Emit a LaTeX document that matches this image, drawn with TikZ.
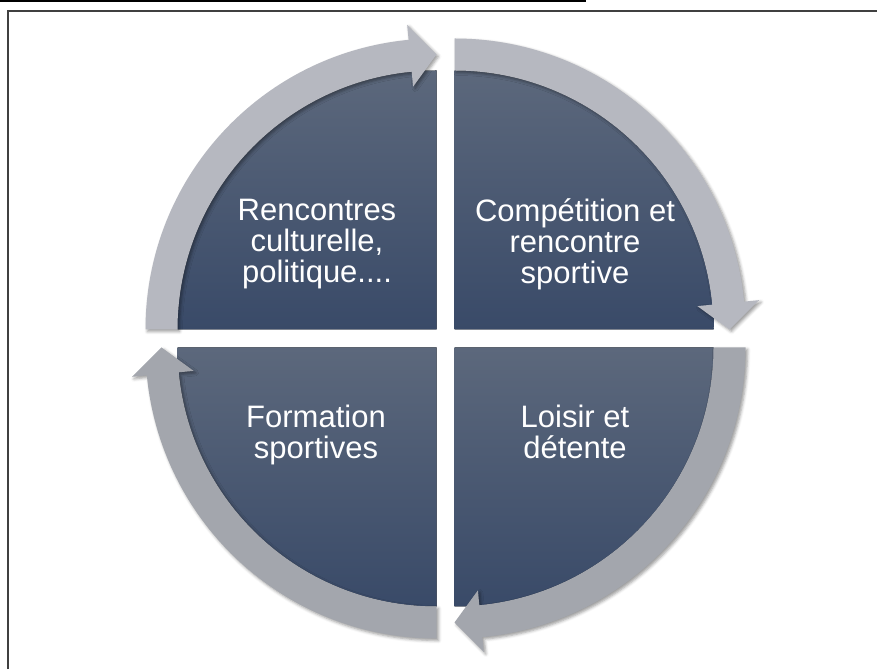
\documentclass[tikz,border=0pt]{standalone}
\usepackage{fontspec}
\setmainfont{Liberation Sans}
\usetikzlibrary{shadows.blur}
\definecolor{ringtop}{HTML}{B6B8C0}
\definecolor{ringbot}{HTML}{A3A6AD}
\definecolor{sectop}{HTML}{5C687C}
\definecolor{secbot}{HTML}{394A68}

\begin{document}
\begin{tikzpicture}[x=1pt, y=1pt,
  sector/.style={top color=sectop, bottom color=secbot},
  ring/.style={blur shadow={shadow xshift=2pt, shadow yshift=-2pt, shadow blur radius=3pt, shadow opacity=40}},
  qtext/.style={text=white, align=center, inner sep=0pt, font=\fontsize{31}{31}\selectfont}]
  \useasboundingbox (0,0) rectangle (877,669);
  \def\rin{259}
  \def\rout{291}
  \def\hin{244}
  \def\hout{306}
  \def\rtip{275}
  \def\hang{95.5}
  % frame
  \draw[black, line width=2pt] (0,667.8) -- (586,667.8);
  \draw[black!75, line width=2pt] (8,0) -- (8,658) -- (877,658);
  % quarter discs
  \foreach \cx/\cy/\a in {436.5/339.5/90, 454.5/339.5/0, 454.5/321.5/270, 436.5/321.5/180}{
    \fill[sector] (\cx,\cy) -- ++(\a:\rin) arc[start angle=\a, end angle=\a+90, radius=\rin] -- cycle;
  }
  % curved arrows, one per quarter
  \foreach \cx/\cy/\rot/\col in {436.5/339.5/0/ringtop, 454.5/339.5/-90/ringtop, 454.5/321.5/-180/ringbot, 436.5/321.5/90/ringbot}{
    \begin{scope}[shift={(\cx,\cy)}, rotate=\rot]
      \fill[ring, \col] (180:\rin) -- (180:\rout) arc[start angle=180, end angle=\hang, radius=\rout]
        -- (\hang:\hout) -- (90:\rtip) -- (\hang:\hin) -- (\hang:\rin)
        arc[start angle=\hang, end angle=180, radius=\rin] -- cycle;
    \end{scope}
  }
  % texts
  \node[qtext] (rencontres) at (317,424.5) {Rencontres\\culturelle,\\politique....};
  \node[qtext] (competition) at (575,424.5) {Compétition et\\rencontre\\sportive};
  \node[qtext] (formation) at (316,234) {Formation\\sportives};
  \node[qtext] (loisir) at (575,237) {Loisir et\\détente};
\end{tikzpicture}
\end{document}
